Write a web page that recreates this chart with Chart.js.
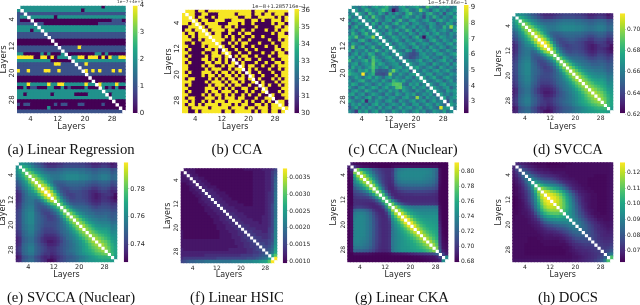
<!DOCTYPE html>
<html>
<head>
<meta charset="utf-8">
<script src="https://cdn.jsdelivr.net/npm/chart.js@4"></script>
<style>
  html, body { margin: 0; padding: 0; background: #fff; width: 640px; height: 305px; overflow: hidden; }
  canvas { position: absolute; filter: blur(0.45px); }
  .caption { position: absolute; width: 170px; text-align: center; font: 14.7px/18px "Liberation Serif", serif; color: #111; white-space: nowrap; filter: blur(0.25px); }
  .offset { position: absolute; font-family: "DejaVu Sans", sans-serif; color: #333; white-space: nowrap; line-height: 6px; filter: blur(0.3px); }
</style>
</head>
<body>
<script>
// axis ticks shared by every heatmap
const layerTicks = [4, 12, 20, 28];

// (a) Linear Regression, units of 1
const linearRegressionRows = [
  [null,2,2,2,2,2,2,2, 2,2,2,2,2,2,2,2, 2,2,2,2,2,2,2,2, 2,0,2,2,2,2,2,2],
  [2,null,2,2,2,2,2,2, 2,2,2,2,2,2,2,2, 2,2,2,0,2,2,2,2, 2,2,2,2,2,2,2,2],
  [1,1,null,1,1,1,1,1, 1,1,1,1,1,1,1,1, 1,1,1,1,1,1,1,1, 1,1,1,1,1,1,1,1],
  [1,2,2,null,2,2,2,2, 2,2,2,0,2,2,2,2, 2,2,2,2,2,2,2,2, 2,2,2,2,2,2,2,2],
  [1,0,0,0,null,0,0,0, 0,0,0,0,0,0,0,0, 0,0,0,0,0,0,0,0, 0,0,0,0,1,1,1,0],
  [1,1,1,1,1,null,1,1, 0,0,0,0,0,0,0,0, 0,0,0,0,0,0,0,0, 1,1,1,1,1,1,1,1],
  [2,2,2,2,2,2,null,2, 2,2,2,2,2,2,2,2, 2,2,2,2,2,2,2,2, 2,2,2,2,2,2,2,2],
  [2,2,2,2,0,2,2,null, 2,2,2,2,2,2,2,2, 2,2,2,2,2,2,2,2, 2,2,2,2,2,2,2,2],
  [1,1,1,1,1,1,1,1, null,1,1,1,1,1,1,1, 1,1,1,1,1,1,1,1, 1,1,1,1,1,1,1,1],
  [1,1,1,1,1,1,1,1, 1,null,1,1,1,1,1,1, 1,1,1,1,1,1,1,1, 1,1,1,1,1,1,1,1],
  [0,0,0,0,0,0,0,0, 0,0,null,0,0,0,0,0, 0,0,0,0,0,0,0,0, 0,0,0,0,0,0,0,0],
  [0,0,0,0,0,0,0,0, 0,0,0,null,0,0,0,0, 0,0,0,0,0,0,0,0, 0,0,0,0,0,0,0,0],
  [1,1,1,1,1,1,1,1, 1,1,1,1,null,1,1,1, 1,1,4,1,1,1,1,1, 1,1,1,1,1,1,1,1],
  [1,1,1,1,1,1,1,1, 1,1,1,1,1,null,1,1, 1,1,1,1,1,1,1,1, 1,1,1,1,1,1,1,1],
  [2,2,0,0,0,0,0,2, 0,2,0,0,0,2,null,0, 0,0,0,0,0,0,0,2, 2,0,2,0,0,0,0,0],
  [4,4,4,4,4,0,0,4, 4,0,4,0,2,2,2,null, 2,2,4,4,0,4,4,4, 0,4,0,4,2,2,4,4],
  [2,2,2,2,2,2,2,2, 2,2,0,0,0,0,0,0, null,2,2,2,2,2,2,2, 2,2,2,2,2,2,2,2],
  [1,1,1,1,1,1,1,1, 1,1,1,4,4,1,1,1, 1,null,1,1,4,1,1,1, 1,1,1,1,1,1,1,1],
  [1,1,1,1,1,1,1,1, 1,1,1,1,1,1,1,1, 1,1,null,1,1,1,1,1, 1,1,1,1,1,1,1,1],
  [4,1,1,4,1,1,1,1, 4,4,1,1,4,1,1,1, 1,1,1,null,4,1,4,1, 4,1,1,1,4,1,4,1],
  [1,1,1,1,1,1,1,1, 1,1,1,1,1,1,1,1, 1,1,1,1,null,1,1,1, 1,1,1,1,1,1,1,1],
  [0,0,0,0,0,0,0,0, 0,0,0,0,0,0,0,0, 0,0,0,0,0,null,0,0, 0,0,0,0,0,0,0,0],
  [0,0,0,0,0,0,0,0, 0,0,0,0,0,0,0,0, 0,0,0,0,0,0,null,0, 0,0,0,0,0,0,0,0],
  [2,2,2,4,2,2,2,2, 2,4,2,2,4,4,2,2, 2,2,2,2,4,2,2,null, 4,2,2,2,2,4,2,2],
  [0,0,2,0,1,1,0,0, 0,2,2,0,0,2,0,1, 0,0,0,0,2,0,0,0, null,2,0,1,0,2,0,0],
  [2,2,2,2,2,2,2,2, 2,2,2,2,2,2,2,2, 2,2,2,2,2,2,2,2, 2,null,2,2,2,2,2,2],
  [2,2,0,2,2,2,2,2, 2,2,0,2,2,2,2,2, 2,0,0,0,0,2,2,2, 2,2,null,0,2,2,2,2],
  [2,2,2,2,2,2,2,2, 2,2,2,2,2,2,2,2, 2,2,2,2,2,2,2,2, 2,2,2,null,2,2,2,2],
  [0,0,0,0,0,0,0,0, 0,0,0,0,0,0,0,0, 0,0,0,0,0,0,0,0, 0,0,0,0,null,0,0,0],
  [1,0,1,1,0,0,0,0, 0,0,0,1,0,1,1,0, 0,0,1,1,0,0,0,0, 0,1,0,0,0,null,0,0],
  [0,0,0,0,0,0,0,0, 0,2,0,0,0,0,0,0, 0,0,0,0,0,0,0,0, 0,0,0,0,0,0,null,0],
  [1,1,1,1,1,1,1,1, 1,1,1,1,1,1,1,1, 1,1,1,1,1,1,1,1, 1,1,1,1,1,1,1,null]
];

// (b) CCA
const ccaRows = [
  [null,36,36,36,30,36,36,30, 36,36,36,36,36,36,36,36, 36,36,36,36,36,30,36,36, 36,30,36,36,36,36,36,36],
  [36,null,36,36,30,30,36,36, 30,30,30,36,36,36,36,36, 30,36,36,36,36,30,36,36, 30,36,36,30,36,36,36,30],
  [36,36,null,36,30,36,36,30, 30,36,30,36,36,36,36,36, 36,30,30,36,36,30,30,36, 36,36,36,36,30,36,30,36],
  [36,36,36,null,36,30,36,36, 30,30,36,36,36,30,30,36, 36,36,36,30,30,36,36,30, 36,30,30,36,36,36,30,36],
  [36,36,30,36,null,36,30,36, 36,36,36,30,30,30,36,36, 36,30,36,30,30,36,30,30, 30,30,30,36,30,36,36,30],
  [30,30,36,36,36,null,36,30, 36,36,36,36,30,36,36,30, 36,30,30,30,30,30,36,30, 30,30,30,30,36,36,30,36],
  [30,36,36,30,36,36,null,36, 30,36,36,36,36,30,36,36, 30,30,36,30,30,36,30,30, 30,36,30,30,36,30,36,36],
  [36,30,36,36,30,36,36,null, 36,30,36,36,30,30,36,30, 30,36,30,36,36,30,30,30, 30,30,30,36,30,36,36,30],
  [36,36,30,36,30,36,36,36, null,36,36,36,30,36,30,36, 30,30,36,30,30,36,30,30, 36,30,30,30,30,36,36,36],
  [36,36,36,30,30,36,30,36, 36,null,36,36,36,30,30,36, 30,36,30,30,36,30,30,30, 30,30,36,30,30,36,30,36],
  [36,30,30,36,30,30,36,36, 36,36,null,36,30,30,36,30, 36,30,36,36,30,30,30,36, 30,30,30,36,30,30,36,36],
  [36,36,30,30,30,30,36,30, 36,36,36,null,36,30,30,36, 30,30,36,30,30,36,30,30, 30,36,30,30,36,30,36,36],
  [36,30,36,30,30,30,30,36, 36,30,36,30,null,36,30,30, 36,30,30,36,30,30,36,30, 30,30,30,30,36,36,30,36],
  [36,36,30,30,30,30,36,30, 30,36,36,30,36,null,36,30, 30,36,30,30,36,30,30,30, 36,30,30,36,30,36,36,30],
  [36,30,36,30,30,30,30,36, 30,36,36,36,30,36,null,30, 36,30,36,36,30,30,36,30, 30,30,36,30,30,36,36,36],
  [36,36,30,30,30,30,36,36, 30,36,30,36,30,36,30,null, 30,36,30,36,36,30,30,36, 30,30,30,36,30,30,36,36],
  [36,30,36,30,30,30,30,36, 36,30,36,36,30,36,30,36, null,30,36,30,30,30,36,30, 30,36,30,30,36,36,30,36],
  [36,36,30,30,30,30,36,30, 36,36,30,30,36,30,36,36, 30,null,36,30,36,36,30,30, 36,30,30,36,30,36,36,36],
  [36,36,30,30,30,30,30,36, 30,36,36,36,30,30,36,30, 36,36,null,30,36,30,36,30, 30,30,36,30,30,36,30,36],
  [36,30,36,30,30,30,36,36, 36,30,36,30,36,36,30,36, 30,36,30,null,36,30,30,36, 30,30,30,36,30,30,36,36],
  [36,36,30,30,30,30,36,30, 36,36,30,36,30,36,36,30, 36,30,36,30,null,36,30,30, 36,30,30,30,36,30,36,36],
  [36,30,36,36,30,30,30,30, 36,30,36,30,36,30,36,36, 30,36,36,30,36,null,30,36, 30,30,30,36,30,36,30,36],
  [36,36,36,30,30,30,30,36, 30,36,36,36,30,36,30,36, 36,30,36,30,30,36,null,30, 36,30,30,30,36,30,36,36],
  [36,30,36,30,30,30,30,30, 36,30,36,36,36,30,36,30, 36,36,30,30,36,30,30,null, 36,30,36,30,30,36,30,36],
  [36,36,30,30,30,30,30,36, 36,36,30,36,30,36,30,36, 30,30,36,36,30,30,36,30, null,36,30,30,30,30,36,36],
  [36,30,36,30,30,30,30,36, 30,36,36,30,36,36,36,30, 36,30,30,36,30,36,30,30, 36,null,30,30,30,36,30,36],
  [36,36,30,30,30,30,36,30, 36,30,36,36,30,36,30,36, 30,30,36,30,36,30,30,36, 30,30,null,36,30,30,36,36],
  [36,30,36,36,30,30,30,36, 36,36,30,36,30,36,36,36, 30,36,36,30,30,30,36,30, 30,36,36,null,30,30,30,36],
  [36,36,30,36,30,30,36,30, 36,30,36,36,36,30,36,36, 36,36,30,36,30,36,30,30, 36,30,36,30,null,36,36,30],
  [36,30,36,36,30,36,30,36, 36,36,36,30,36,36,36,30, 36,30,36,36,30,30,36,36, 30,36,30,36,36,null,36,30],
  [36,36,30,36,36,36,36,36, 30,36,36,36,36,36,30,36, 36,36,36,30,36,36,30,36, 36,36,30,36,36,36,null,36],
  [36,36,30,30,36,30,36,36, 36,36,36,36,30,36,36,30, 36,36,36,36,36,30,36,30, 36,36,30,36,36,30,36,null]
];

// (c) CCA (Nuclear), in tenths
const ccaNuclearRows = [
  [null,56,52,48,61,55,46,58, 63,54,60,67,52,44,41,57, 62,50,55,58,64,53,47,72, 59,51,46,60,55,62,49,54],
  [55,null,60,47,52,66,58,49, 55,62,70,64,48,25,38,53, 59,66,51,47,56,75,60,52, 43,58,64,50,57,46,53,60],
  [50,58,null,62,54,45,68,57, 49,64,55,42,58,47,60,52, 46,63,70,54,49,57,45,61, 66,52,48,59,40,56,62,51],
  [62,48,55,null,52,63,47,72, 58,51,44,60,55,62,50,45, 57,64,52,48,61,53,38,59, 50,66,56,45,58,52,47,63],
  [45,57,63,50,null,55,60,48, 66,53,47,58,62,44,57,68, 51,46,59,64,52,48,56,62, 50,43,58,65,54,49,60,55],
  [58,44,52,61,57,null,48,65, 54,42,60,53,47,58,66,50, 56,62,45,55,60,51,47,53, 61,57,44,52,48,63,58,46],
  [40,55,65,48,53,60,null,57, 46,62,51,68,56,44,50,59, 65,48,54,60,46,57,52,44, 62,55,50,47,66,53,80,58],
  [52,60,47,56,64,50,58,null, 61,49,55,46,60,53,64,48, 52,67,57,43,60,50,58,47, 54,62,49,56,60,51,45,62],
  [48,66,54,45,59,68,50,57, null,60,47,56,65,50,46,60, 54,48,62,55,45,59,52,62, 48,57,64,50,53,47,58,52],
  [62,58,72,50,46,58,62,80, 54,null,60,48,52,64,57,49, 61,55,44,58,66,48,25,54, 60,52,46,62,57,50,55,47],
  [57,50,46,61,66,52,44,56, 62,50,null,58,47,55,63,51, 45,60,54,48,57,62,50,44, 58,65,52,47,60,54,49,61],
  [46,62,55,50,44,60,57,48, 53,65,56,null,60,46,52,62, 55,49,58,64,47,53,60,57, 45,51,62,56,48,58,64,50],
  [53,75,48,58,62,47,55,66, 50,46,60,54,null,62,49,56, 60,52,44,57,64,50,55,46, 62,53,48,60,55,45,52,59],
  [60,45,57,52,50,63,48,53, 68,56,47,61,52,null,58,50, 46,62,55,40,53,60,48,57, 51,64,56,46,50,61,54,48],
  [44,54,62,47,58,52,66,60, 46,51,63,55,48,57,null,62, 52,45,40,38,42,56,60,50, 54,47,59,63,52,48,57,62],
  [56,61,49,64,53,45,58,70, 55,48,52,60,64,50,54,null, 48,44,38,40,46,52,58,62, 49,55,50,45,61,56,47,53],
  [68,48,55,52,60,66,50,72, 62,57,46,53,58,62,49,55, null,60,50,47,55,63,48,54, 60,46,52,58,64,50,57,45],
  [50,58,62,46,54,60,56,74, 54,64,58,48,52,57,60,46, 54,null,62,52,48,57,60,50, 45,62,55,48,53,60,46,58],
  [47,64,52,57,48,55,62,72, 60,50,55,62,46,53,58,62, 50,56,null,58,64,52,47,55, 60,50,45,62,54,48,57,52],
  [62,54,47,60,56,65,52,70, 46,42,44,43,56,75,60,50, 57,62,46,null,56,48,60,53, 47,58,62,50,56,63,51,46],
  [66,60,58,52,92,50,58,66, 40,40,38,42,78,52,48,60, 53,47,58,62,null,55,50,60, 62,46,54,58,50,47,60,55],
  [48,52,62,55,47,58,64,50, 62,54,46,57,63,50,58,52, 48,60,55,46,60,null,62,48, 55,64,50,46,57,62,52,49],
  [57,46,53,62,66,51,48,60, 55,48,62,52,46,68,60,54, 63,50,47,58,52,60,null,55, 48,52,62,56,45,53,60,47],
  [52,64,58,47,50,60,55,46, 53,62,50,57,62,72,74,72, 50,45,60,54,62,48,56,null, 60,50,46,58,62,50,55,57],
  [60,50,45,57,62,48,53,64, 58,46,56,63,50,55,72,74, 60,53,48,62,50,55,60,47, null,62,52,48,56,60,45,53],
  [46,56,62,52,48,65,57,50, 47,60,54,48,62,53,58,46, 62,55,50,45,60,52,47,62, 55,null,58,50,46,62,55,60],
  [58,62,48,55,60,44,52,62, 56,50,45,60,52,47,62,55, 48,60,54,62,46,50,58,52, 60,46,null,62,50,55,48,57],
  [52,45,60,54,47,58,64,46, 52,62,55,48,57,60,50,46, 58,62,50,48,80,56,45,60, 52,57,48,null,62,46,54,60],
  [63,55,47,50,62,30,56,48, 60,53,46,58,62,50,44,60, 52,47,56,62,48,55,60,45, 53,62,50,55,null,40,58,48],
  [47,60,53,62,48,55,45,58, 64,50,57,46,53,60,55,48, 62,50,45,58,60,47,52,62, 56,48,60,53,45,null,62,55],
  [42,52,62,46,58,50,60,54, 47,62,48,56,60,45,52,62, 50,57,60,48,54,62,46,53, 60,50,45,88,55,60,null,50],
  [55,48,34,60,52,62,46,56, 62,45,58,50,47,62,55,48, 60,52,46,56,62,50,58,45, 48,60,55,50,62,47,56,null]
];

// (d) SVCCA, upper triangle in thousandths
const svccaUpper = [
  [668,668,665,660,655, 648,645,640,635,632, 632,632,634,636,638, 640,640,640,640,638, 638,636,634,630,630, 632,634,634,632,626, 630],
  [680,675,668,662,655, 650,645,640,636,636, 636,638,640,642,644, 644,644,644,642,642, 640,638,634,634,636, 638,638,636,630,632],
  [688,680,672,665,660, 655,650,648,648,648, 650,652,654,656,656, 656,656,654,654,652, 650,648,648,650,652, 652,650,644,646],
  [695,685,675,668,662, 658,655,654,654,655, 657,659,660,660,660, 660,658,658,656,655, 652,652,654,656,656, 654,648,650],
  [698,690,680,672,666, 662,658,658,658,660, 662,664,664,664,664, 662,662,660,658,656, 656,658,660,660,658, 652,654],
  [702,692,682,672,665, 660,658,658,660,662, 664,664,664,664,662, 662,660,658,656,656, 658,660,660,658,652, 654],
  [704,695,683,670,660, 652,650,650,652,654, 655,655,655,654,654, 652,650,648,648,650, 652,652,650,644,646],
  [708,698,684,668,655, 648,646,648,650,652, 652,652,650,650,648, 645,642,642,645,648, 648,646,640,642],
  [712,700,684,665,652, 645,642,644,646,648, 648,646,644,642,640, 636,636,640,642,642, 640,634,636],
  [714,700,680,660,648, 642,640,642,644,644, 642,640,638,634,632, 632,636,638,638,636, 630,632],
  [710,695,672,654,645, 640,638,640,642,642, 640,638,634,630,628, 630,634,636,636,632, 626],
  [705,685,665,652,645, 640,640,642,642,640, 638,634,630,628,630, 634,634,632,628,625],
  [695,675,660,650,644, 642,644,644,642,640, 636,632,630,632,636, 636,634,630,628],
  [690,672,660,652,648, 648,648,646,644,640, 636,634,636,640,640, 638,634,636],
  [692,678,665,657,654, 653,651,650,646,642, 640,642,644,644,642, 638,640],
  [695,682,670,662,658, 656,654,652,648,646, 646,648,648,646,642, 644],
  [697,685,674,666,662, 658,656,654,650,650, 650,652,650,646,648],
  [698,688,678,670,664, 660,658,655,654,654, 655,652,648,650],
  [700,690,680,672,666, 662,660,658,658,658, 655,650,652],
  [700,692,682,674,668, 665,663,662,662,660, 654,656],
  [702,692,684,676,670, 668,666,666,664,658, 660],
  [700,692,684,678,674, 672,672,668,660,662],
  [700,692,686,680,678, 676,672,664,666],
  [700,694,688,684,680, 676,668,668],
  [702,696,690,686,680, 672,670],
  [702,696,692,685,676, 672],
  [702,696,688,680,674],
  [700,692,682,676],
  [695,682,676],
  [685,676],
  [672]
];

// (e) SVCCA (Nuclear), upper triangle in thousandths
const svccaNuclearUpper = [
  [763,763,760,757,753, 747,745,741,737,735, 735,735,737,738,740, 741,741,741,741,740, 740,738,737,734,734, 735,737,737,735,731, 734],
  [772,768,763,758,753, 749,745,741,738,738, 738,740,741,743,744, 744,744,744,743,743, 741,740,737,737,738, 740,740,738,734,735],
  [778,772,766,760,757, 753,749,747,747,747, 749,750,752,753,753, 753,753,752,752,750, 749,747,747,749,750, 750,749,744,746],
  [783,776,768,763,758, 755,753,752,752,753, 754,756,757,757,757, 757,755,755,753,753, 750,750,752,753,753, 752,747,749],
  [786,780,772,766,761, 758,755,755,755,757, 758,760,760,760,760, 758,758,757,755,753, 753,755,757,757,755, 750,752],
  [789,781,773,766,760, 757,755,755,757,758, 760,760,760,760,758, 758,757,755,753,753, 755,757,757,755,750, 752],
  [790,783,774,764,757, 750,749,749,750,752, 753,753,753,752,752, 750,749,747,747,749, 750,750,749,744,746],
  [793,786,775,763,753, 747,746,747,749,750, 750,750,749,749,747, 745,743,743,745,747, 747,746,741,743],
  [796,787,775,760,750, 745,743,744,746,747, 747,746,744,743,741, 738,738,741,743,743, 741,737,738],
  [798,787,772,757,747, 743,741,743,744,744, 743,741,740,737,735, 735,738,740,740,738, 734,735],
  [795,783,766,752,745, 741,740,741,743,743, 741,740,737,734,732, 734,737,738,738,735, 730],
  [791,776,760,750,745, 741,741,743,743,741, 740,737,734,732,734, 737,737,735,732,729],
  [783,768,757,749,744, 743,744,744,743,741, 738,735,734,735,738, 738,737,734,732],
  [779,766,757,750,747, 747,747,746,744,741, 738,737,738,741,741, 740,737,738],
  [781,770,760,754,752, 751,750,749,746,743, 741,743,744,744,743, 740,741],
  [783,773,764,758,755, 753,752,750,747,746, 746,747,747,746,743, 744],
  [785,776,767,761,758, 755,753,752,749,749, 749,750,749,746,747],
  [786,778,770,764,760, 757,755,753,752,752, 753,750,747,749],
  [787,779,772,766,761, 758,757,755,755,755, 753,749,750],
  [787,781,773,767,763, 760,759,758,758,757, 752,753],
  [789,781,775,769,764, 763,761,761,760,755, 757],
  [787,781,775,770,767, 766,766,763,757,758],
  [787,781,776,772,770, 769,766,760,761],
  [787,783,778,775,772, 769,763,763],
  [789,784,780,776,772, 766,764],
  [789,784,781,776,769, 766],
  [789,784,778,772,767],
  [787,781,773,769],
  [783,773,769],
  [775,769],
  [766]
];

// (f) Linear HSIC, upper triangle in ten-thousandths
const linearHsicUpper = [
  [11,11,11,11,10, 10,10,10,10,10, 10,10,10,10,10, 10,10,10,10,10, 11,11,11,11,11, 11,12,12, 12,13,15],
  [12,11,11,10,10, 10,10,10,10,10, 10,10,10,10,10, 10,10,10,10,10, 10,10,11,11,11, 11,12, 12,14,16],
  [12,11,11,10,10, 10,10,10,10,10, 10,10,10,10,10, 10,10,10,10,10, 10,11,11,11,11, 12, 12,14,17],
  [12,12,11,11,10, 10,10,10,10,10, 10,10,10,10,10, 10,10,10,10,10, 11,11,11,11,12, 12,14,18],
  [12,12,11,11,10, 10,10,10,10,10, 10,10,10,10,10, 10,10,10,10,11, 11,11,11,12, 12,14,18],
  [12,12,11,11,10, 10,10,10,10,10, 10,10,10,10,10, 10,10,10,11,11, 11,11,12, 12,14,19],
  [12,12,11,11,11, 10,10,10,10,10, 10,10,10,10,10, 10,10,11,11,11, 11,12, 12,14,19],
  [13,12,12,11,11, 10,10,10,10,10, 10,10,10,10,10, 10,11,11,11,11, 12, 12,14,19],
  [13,12,12,11,11, 11,10,10,10,10, 10,10,10,10,10, 11,11,11,11,12, 13,14,20],
  [13,12,12,11,11, 11,10,10,10,10, 10,10,10,10,11, 11,11,11,12, 13,14,20],
  [13,12,12,11,11, 11,10,10,10,10, 10,10,10,11,11, 11,11,12, 13,14,20],
  [13,12,12,11,11, 11,11,10,10,10, 10,10,11,11,11, 11,12, 13,14,20],
  [13,12,12,11,11, 11,11,11,10,10, 10,11,11,11,11, 12, 13,15,20],
  [13,12,12,12,11, 11,11,11,11,11, 11,11,11,11,12, 13,15,20],
  [13,12,12,12,11, 11,11,11,11,11, 11,11,11,12, 13,15,20],
  [13,13,12,12,12, 11,11,11,11,11, 11,11,12, 13,15,20],
  [13,13,12,12,12, 11,11,11,11,11, 12,12, 13,15,20],
  [13,13,12,12,12, 12,11,11,11,12, 12, 13,15,21],
  [13,13,12,12,12, 12,12,11,12,12, 13,15,21],
  [14,13,13,12,12, 12,12,12,12, 13,15,21],
  [14,13,13,13,12, 12,12,12, 14,15,21],
  [14,14,13,13,13, 12,12, 14,15,22],
  [14,14,13,13,13, 13, 14,16,22],
  [15,14,14,13,13, 14,16,22],
  [15,14,14,14, 15,16,23],
  [15,15,14, 15,17,23],
  [16,15, 16,18,24],
  [16, 17,19,25],
  [18,20,26],
  [25,30],
  [38]
];

// (g) Linear CKA, upper triangle in thousandths
const linearCkaUpper = [
  [690,684,682,681,680, 680,680,680,680,680, 680,680,680,680,680, 680,680,680,680,680, 680,680,680,680,680, 680,680,680,680,680, 680],
  [700,690,686,684,684, 682,682,681,680,680, 680,680,682,684,684, 684,684,684,684,684, 684,684,684,684,684, 684,684,680,680,680],
  [785,760,745,738,728, 715,708,702,698,696, 696,700,722,732,735, 737,738,738,738,738, 738,738,737,735,730, 722,684,680,680],
  [792,770,752,738,725, 712,705,700,696,696, 702,726,736,738,740, 740,740,740,740,740, 740,738,736,730,720, 684,680,680],
  [795,772,752,735,720, 708,702,697,696,702, 726,736,740,740,740, 740,740,740,740,738, 736,735,730,720,684, 680,680],
  [792,770,748,728,712, 702,697,695,700,724, 734,737,738,738,738, 738,738,738,736,734, 732,728,718,684,680, 680],
  [790,765,740,718,704, 697,694,698,718,728, 732,733,733,733,733, 733,733,732,730,728, 725,716,684,680,680],
  [788,760,732,710,698, 693,695,710,720,724, 725,726,726,726,726, 726,725,723,722,718, 710,683,680,680],
  [782,752,722,702,693, 692,700,708,712,714, 714,715,715,715,715, 714,713,712,710,705, 682,680,680],
  [778,745,715,698,692, 694,699,702,704,705, 705,705,705,705,705, 704,703,702,698,681, 680,680],
  [772,735,708,695,692, 694,696,697,697,697, 698,698,698,698,698, 697,696,694,681,680, 680],
  [770,730,705,694,693, 693,694,694,694,694, 694,694,694,694,694, 694,692,681,680,680],
  [772,738,715,700,695, 694,695,695,695,695, 695,695,695,695,695, 693,681,680,680],
  [780,750,728,712,703, 700,698,698,698,698, 698,698,698,698,696, 682,680,680],
  [790,768,752,742,736, 732,730,730,730,730, 730,730,730,728,684, 680,680],
  [796,775,760,750,744, 740,738,737,737,737, 737,737,736,685,680, 680],
  [800,780,765,755,749, 745,743,742,742,742, 742,740,686,680,680],
  [805,785,770,760,753, 749,747,746,746,746, 745,687,680,680],
  [808,788,772,762,756, 752,750,749,748,746, 688,680,680],
  [808,788,772,763,757, 754,752,750,748,690, 680,680],
  [805,786,772,764,758, 755,753,750,692,680, 680],
  [800,784,772,764,759, 756,752,694,681,680],
  [798,782,772,765,760, 755,696,681,680],
  [795,782,772,765,758, 698,682,680],
  [794,782,772,762,700, 683,681],
  [792,780,768,702,684, 682],
  [790,775,705,685,683],
  [785,710,686,684],
  [720,690,686],
  [705,690],
  [742]
];

// (h) DOCS, upper triangle in thousandths
const docsUpper = [
  [70,69,68,67,66, 65,64,64,64,64, 63,63,63,63,64, 64,64,64,65,65, 65,65,65,65,65, 65,65,65,65,65, 66],
  [76,72,70,68,67, 66,65,65,65,64, 64,64,64,64,64, 65,65,65,65,65, 65,65,65,65,65, 65,65,65,65,66],
  [79,75,72,70,68, 67,67,66,66,65, 65,65,65,65,65, 65,65,65,65,65, 65,65,65,65,65, 65,65,65,66],
  [83,78,74,72,70, 69,68,68,67,66, 66,66,66,65,65, 65,65,65,65,65, 65,65,65,65,65, 65,65,66],
  [87,82,78,75,73, 72,71,70,69,68, 67,66,66,65,65, 65,65,65,65,65, 65,64,64,64,64, 65,66],
  [92,86,82,79,77, 76,75,73,71,69, 68,67,66,66,65, 65,65,65,64,64, 64,64,64,64,65, 66],
  [99,92,88,85,84, 82,80,77,74,71, 69,68,67,66,65, 65,65,64,64,64, 64,64,64,65,66],
  [108,102,97,94,92, 90,87,83,78,73, 70,68,67,66,65, 65,64,64,64,64, 64,64,65,66],
  [116,111,107,104,101, 97,92,86,80,74, 70,68,67,66,65, 65,64,64,64,64, 64,65,66],
  [122,119,115,112,108, 103,96,88,81,75, 71,68,67,66,65, 65,64,64,64,64, 65,66],
  [125,123,120,116,110, 103,95,87,80,74, 70,68,67,66,65, 65,64,64,64,65, 66],
  [126,124,120,114,107, 99,91,83,76,72, 69,67,66,65,65, 64,64,64,65,66],
  [124,121,116,109,101, 93,85,78,73,69, 67,66,65,65,64, 64,64,65,66],
  [120,116,110,102,94, 87,80,74,70,68, 66,65,65,64,64, 64,65,66],
  [116,110,103,95,88, 81,76,71,68,66, 65,65,64,64,64, 65,66],
  [108,102,95,89,83, 77,73,69,67,66, 65,64,64,64,65, 66],
  [100,95,90,84,79, 75,71,68,66,65, 65,64,64,65,66],
  [95,91,86,81,77, 73,70,68,66,65, 65,65,65,66],
  [93,89,84,80,76, 72,70,68,66,66, 65,65,66],
  [90,87,83,79,75, 72,70,68,67,66, 66,67],
  [88,84,81,77,74, 71,70,68,67,66, 67],
  [85,82,78,75,72, 70,69,68,67,68],
  [82,79,76,73,71, 70,69,68,69],
  [79,76,74,72,70, 69,69,70],
  [77,74,72,71,70, 70,71],
  [75,73,72,71,71, 72],
  [74,73,72,72,74],
  [74,73,74,76],
  [75,76,80],
  [82,88],
  [108]
];

// colorbar ticks
const linearRegressionTicks = [0, 1, 2, 3, 4];
const ccaTicks = [30, 31, 32, 33, 34, 35, 36];
const ccaNuclearTicks = [3, 4, 5, 6, 7, 8, 9];
const svccaTicks = [0.62, 0.64, 0.66, 0.68, 0.70];
const svccaNuclearTicks = [0.74, 0.76, 0.78];
const linearHsicTicks = [0.0010, 0.0015, 0.0020, 0.0025, 0.0030, 0.0035];
const linearCkaTicks = [0.68, 0.70, 0.72, 0.74, 0.76, 0.78, 0.80];
const docsTicks = [0.07, 0.08, 0.09, 0.10, 0.11, 0.12];

const viridis = ['#440154','#482475','#414487','#355f8d','#2a788e','#21918c','#22a884','#44bf70','#7ad151','#bddf26','#fde725'];

function viridisColor(t) {
  const pos = Math.max(0, Math.min(1, t)) * (viridis.length - 1);
  const i = Math.min(Math.floor(pos), viridis.length - 2);
  const mix = pos - i;
  const ch = (hex, at) => parseInt(hex.substr(at, 2), 16);
  const part = at => Math.round(ch(viridis[i], at) * (1 - mix) + ch(viridis[i + 1], at) * mix);
  return `rgb(${part(1)},${part(3)},${part(5)})`;
}

// symmetric panels only keep the part above the diagonal
function mirrorRows(upper) {
  const rows = [];
  for (let r = 0; r < 32; r++) {
    const row = [];
    for (let c = 0; c < 32; c++) {
      if (r === c) row.push(null);
      else if (c > r) row.push(upper[r][c - r - 1]);
      else row.push(upper[c][r - c - 1]);
    }
    rows.push(row);
  }
  return rows;
}

const panels = [
  { caption: '(a) Linear Regression', capX: 71, capY: 149, rows: linearRegressionRows, unit: 1, vmin: 0, vmax: 4, ticks: linearRegressionTicks, digits: 0,
    plot: [17, 5.5, 125.7, 113.3], bar: [132.7, 137.7], titleX: 4, titleY: 126.7, tickSize: 7, titleSize: 8.5, offset: '1e\u22127+4e+1', offX: 117, offY: 2, offSize: 4.2 },
  { caption: '(b) CCA', capX: 237, capY: 149, rows: ccaRows, unit: 1, vmin: 30, vmax: 36.06, ticks: ccaTicks, digits: 0,
    plot: [182, 9, 288.3, 113.3], bar: [294.3, 299], titleX: 169.3, titleY: 126.7, tickSize: 7, titleSize: 8, offset: '1e\u22128+1.285716e\u22121', offX: 252, offY: 6, offSize: 5.2 },
  { caption: '(c) CCA (Nuclear)', capX: 403, capY: 149, rows: ccaNuclearRows, unit: 0.1, vmin: 2.25, vmax: 9.17, ticks: ccaNuclearTicks, digits: 0,
    plot: [348.3, 5, 456.7, 113.3], bar: [464, 468.7], titleX: 334, titleY: 126, tickSize: 7, titleSize: 8, offset: '1e\u22125+7.86e\u22121', offX: 428, offY: 2, offSize: 5 },
  { caption: '(d) SVCCA', capX: 568, capY: 149, rows: mirrorRows(svccaUpper), unit: 0.001, vmin: 0.621, vmax: 0.715, ticks: svccaTicks, digits: 2,
    plot: [512.3, 13.3, 613.3, 113.3], bar: [620, 625], titleX: 499.3, titleY: 126.7, tickSize: 6, titleSize: 8 },
  { caption: '(e) SVCCA (Nuclear)', capX: 71, capY: 297, rows: mirrorRows(svccaNuclearUpper), unit: 0.001, vmin: 0.7267, vmax: 0.7994, ticks: svccaNuclearTicks, digits: 2,
    plot: [15.7, 162.3, 117.3, 262.3], bar: [123.7, 128.3], titleX: 3.3, titleY: 275, tickSize: 6.5, titleSize: 8 },
  { caption: '(f) Linear HSIC', capX: 237, capY: 297, rows: mirrorRows(linearHsicUpper), unit: 0.0001, vmin: 0.00093, vmax: 0.00378, ticks: linearHsicTicks, digits: 4,
    plot: [180.7, 168.3, 277.3, 263.3], bar: [282.7, 287.3], titleX: 168.3, titleY: 275, tickSize: 6, titleSize: 8 },
  { caption: '(g) Linear CKA', capX: 402, capY: 297, rows: mirrorRows(linearCkaUpper), unit: 0.001, vmin: 0.6787, vmax: 0.8115, ticks: linearCkaTicks, digits: 2,
    plot: [347.3, 162.3, 448.3, 262.3], bar: [454.3, 459], titleX: 334, titleY: 275, tickSize: 6, titleSize: 8 },
  { caption: '(h) DOCS', capX: 568, capY: 297, rows: mirrorRows(docsUpper), unit: 0.001, vmin: 0.0626, vmax: 0.1264, ticks: docsTicks, digits: 2,
    plot: [512.3, 162.3, 613.3, 262.3], bar: [620, 625], titleX: 499.3, titleY: 275, tickSize: 6, titleSize: 8 }
];

function addCanvas(left, top, width, height) {
  const canvas = document.createElement('canvas');
  canvas.width = width;
  canvas.height = height;
  canvas.style.left = left + 'px';
  canvas.style.top = top + 'px';
  canvas.style.width = width + 'px';
  canvas.style.height = height + 'px';
  document.body.appendChild(canvas);
  return canvas;
}

function drawHeatmap(p) {
  const [x0, y0, x1, y1] = p.plot;
  const left = Math.floor(x0) - 24;
  const top = Math.floor(y0) - 4;
  const width = Math.ceil(x1 - x0) + 30;
  const height = Math.ceil(y1 - y0) + 34;
  const lineHeight = p.titleSize * 1.2;
  const yAxisWidth = x0 - p.titleX + lineHeight / 2;
  const xAxisHeight = p.titleY - y1 + lineHeight / 2;
  const cell = Math.max(x1 - x0, y1 - y0) / 32;

  const points = [];
  const diagonal = [];
  p.rows.forEach((row, r) => row.forEach((v, c) => {
    if (v === null) diagonal.push({ x: c + 0.5, y: r + 0.5 });
    else points.push({ x: c + 0.5, y: r + 0.5, v: v * p.unit });
  }));

  const tickFont = { family: 'DejaVu Sans', size: p.tickSize };
  const titleFont = { family: 'DejaVu Sans', size: p.titleSize, lineHeight: 1.2 };
  const axisBase = {
    type: 'linear', min: 0, max: 32,
    grid: { display: false, drawTicks: false },
    border: { display: false },
    afterBuildTicks: s => { s.ticks = layerTicks.map(v => ({ value: v })); }
  };

  new Chart(addCanvas(left, top, width, height), {
    type: 'scatter',
    data: {
      datasets: [
        // first dataset is painted last, the masked diagonal stays clean
        { data: diagonal, pointStyle: 'rect', pointRadius: cell / 2 * Math.SQRT2, pointBorderWidth: 0, pointBackgroundColor: '#fff' },
        {
          data: points,
          pointStyle: 'rect',
          // half a pixel of overlap so no seams show between cells
          pointRadius: (cell / 2 + 0.5) * Math.SQRT2,
          pointBorderWidth: 0,
          pointBackgroundColor: ctx => ctx.raw ? viridisColor((ctx.raw.v - p.vmin) / (p.vmax - p.vmin)) : '#000'
        }
      ]
    },
    options: {
      responsive: false,
      animation: false,
      events: [],
      layout: {
        padding: {
          left: x0 - left - yAxisWidth,
          top: y0 - top,
          right: left + width - x1,
          bottom: top + height - y1 - xAxisHeight
        }
      },
      plugins: { legend: { display: false }, tooltip: { enabled: false } },
      scales: {
        x: {
          ...axisBase,
          afterFit: s => { s.height = xAxisHeight; },
          ticks: { font: tickFont, color: '#262626', padding: 1.5, maxRotation: 0, autoSkip: false, callback: v => String(v) },
          title: { display: true, text: 'Layers', font: titleFont, color: '#262626', padding: 0 }
        },
        y: {
          ...axisBase,
          reverse: true,
          afterFit: s => { s.width = yAxisWidth; },
          ticks: { font: tickFont, color: '#262626', padding: 0.5, minRotation: 90, maxRotation: 90, crossAlign: 'center', autoSkip: false, callback: v => String(v) },
          title: { display: true, text: 'Layers', font: titleFont, color: '#262626', padding: 0 }
        }
      }
    }
  });
}

function drawColorbar(p) {
  const [, y0, , y1] = p.plot;
  const [b0, b1] = p.bar;
  const left = Math.floor(b0) - 2;
  const top = Math.floor(y0) - 6;
  const width = 36;
  const height = Math.ceil(y1 - y0) + 12;

  new Chart(addCanvas(left, top, width, height), {
    type: 'bar',
    data: {
      labels: [''],
      datasets: [{
        data: [[p.vmin, p.vmax]],
        barPercentage: 1,
        categoryPercentage: 1,
        borderWidth: 0,
        inflateAmount: 0,
        backgroundColor: ctx => {
          const area = ctx.chart.chartArea;
          if (!area) return viridis[0];
          const gradient = ctx.chart.ctx.createLinearGradient(0, area.bottom, 0, area.top);
          viridis.forEach((c, i) => gradient.addColorStop(i / (viridis.length - 1), c));
          return gradient;
        }
      }]
    },
    options: {
      responsive: false,
      animation: false,
      events: [],
      layout: { padding: { left: b0 - left, top: y0 - top, right: 0, bottom: top + height - y1 } },
      plugins: { legend: { display: false }, tooltip: { enabled: false } },
      scales: {
        x: { display: false },
        y: {
          position: 'right',
          min: p.vmin,
          max: p.vmax,
          afterFit: s => { s.width = width - (b1 - left); },
          afterBuildTicks: s => { s.ticks = p.ticks.map(v => ({ value: v })); },
          grid: { drawOnChartArea: false, tickLength: 1, tickColor: '#999', lineWidth: 0.5 },
          border: { display: false },
          ticks: { font: { family: 'DejaVu Sans', size: p.tickSize }, color: '#262626', padding: 1, autoSkip: false, callback: v => v.toFixed(p.digits) }
        }
      }
    }
  });
}

panels.forEach(p => {
  drawHeatmap(p);
  drawColorbar(p);

  const cap = document.createElement('div');
  cap.className = 'caption';
  cap.textContent = p.caption;
  cap.style.left = (p.capX - 85) + 'px';
  cap.style.top = (p.capY - 9) + 'px';
  document.body.appendChild(cap);

  if (p.offset) {
    const off = document.createElement('div');
    off.className = 'offset';
    off.textContent = p.offset;
    off.style.left = p.offX + 'px';
    off.style.top = (p.offY - 3) + 'px';
    off.style.fontSize = p.offSize + 'px';
    document.body.appendChild(off);
  }
});
</script>
</body>
</html>
